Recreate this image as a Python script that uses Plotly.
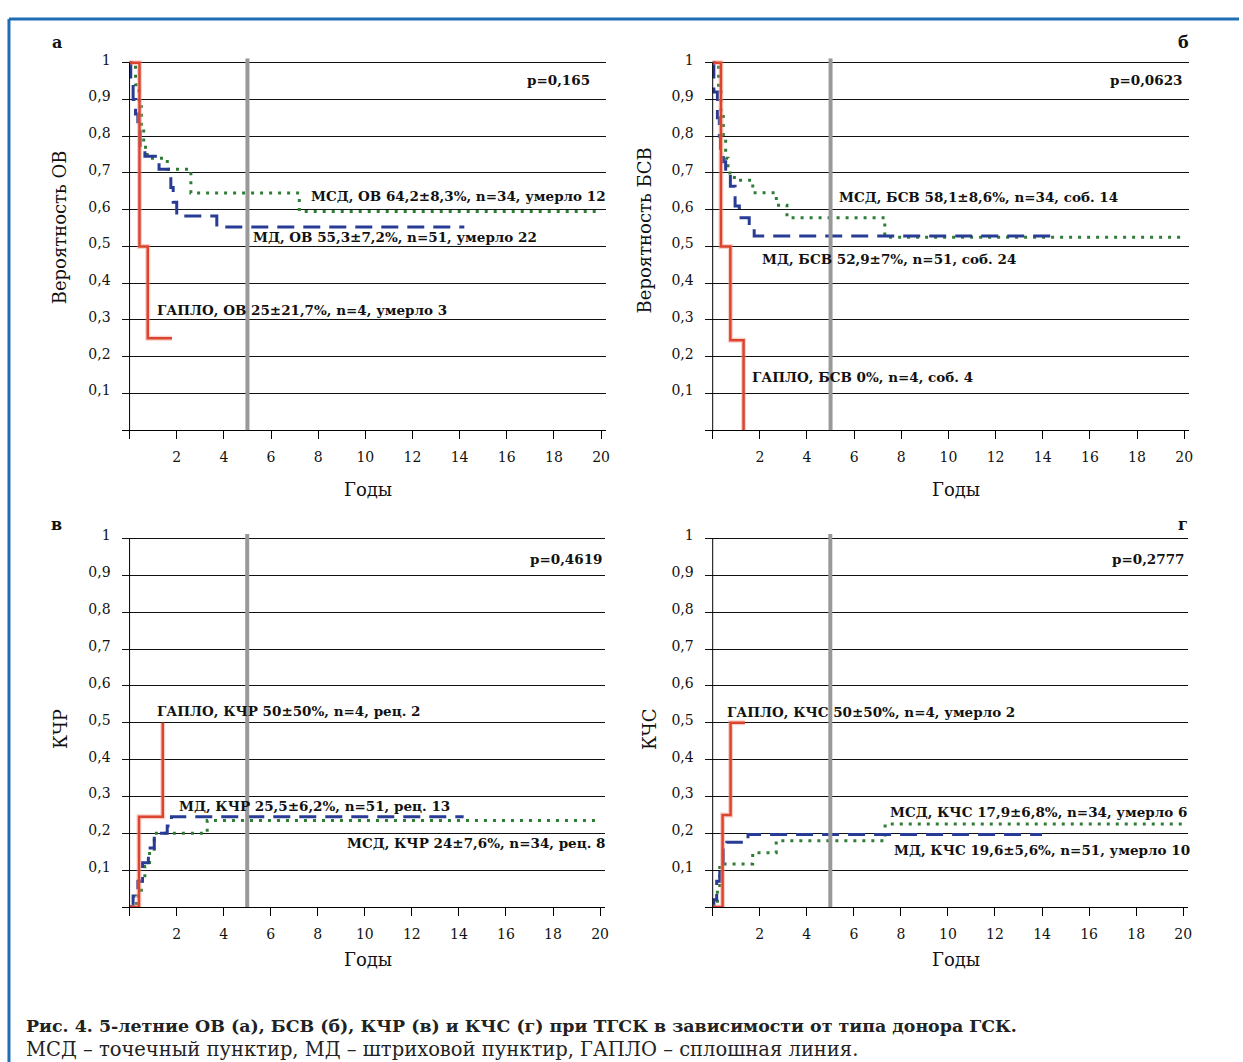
import plotly.graph_objects as go

W, H = 1243, 1062

# ---------------- data (years, probability) ----------------
# Panel а: ОВ
os_msd_t = [0, 0.25, 0.4, 0.5, 0.6, 0.75, 1.6, 2.6, 7.2, 19.8]
os_msd_s = [1.0, 0.94, 0.88, 0.82, 0.77, 0.74, 0.71, 0.645, 0.595, 0.595]
os_md_t = [0, 0.05, 0.15, 0.25, 0.35, 0.45, 0.65, 1.25, 1.75, 1.85, 2.0, 3.7, 14.2]
os_md_s = [1.0, 0.95, 0.9, 0.86, 0.82, 0.77, 0.745, 0.71, 0.66, 0.62, 0.583, 0.553, 0.553]
os_haplo_t = [0, 0.42, 0.77, 1.8]
os_haplo_s = [1.0, 0.5, 0.25, 0.25]

# Panel б: БСВ
efs_msd_t = [0, 0.25, 0.35, 0.45, 0.55, 0.65, 0.92, 1.7, 2.7, 3.15, 7.3, 20]
efs_msd_s = [1.0, 0.93, 0.86, 0.8, 0.74, 0.70, 0.68, 0.646, 0.612, 0.578, 0.525, 0.525]
efs_md_t = [0, 0.05, 0.2, 0.28, 0.33, 0.45, 0.55, 0.75, 0.95, 1.13, 1.55, 1.76, 14.7]
efs_md_s = [1.0, 0.92, 0.85, 0.8, 0.75, 0.73, 0.70, 0.664, 0.61, 0.578, 0.548, 0.528, 0.528]
efs_haplo_t = [0, 0.35, 0.75, 1.31]
efs_haplo_s = [1.0, 0.5, 0.245, 0.0]

# Panel в: КЧР
cir_msd_t = [0, 0.3, 0.5, 0.65, 0.85, 1.05, 3.3, 20]
cir_msd_s = [0, 0.03, 0.07, 0.11, 0.15, 0.2, 0.235, 0.235]
cir_md_t = [0, 0.15, 0.35, 0.55, 0.8, 1.05, 1.6, 1.78, 14.2]
cir_md_s = [0, 0.03, 0.07, 0.12, 0.16, 0.2, 0.22, 0.245, 0.245]
cir_haplo_t = [0, 0.4, 1.41]
cir_haplo_s = [0, 0.245, 0.5]

# Panel г: КЧС
nrm_msd_t = [0, 0.2, 0.3, 1.7, 2.7, 7.33, 20]
nrm_msd_s = [0, 0.05, 0.117, 0.147, 0.18, 0.225, 0.225]
nrm_md_t = [0, 0.05, 0.17, 0.3, 0.45, 0.6, 1.5, 14.0]
nrm_md_s = [0, 0.02, 0.07, 0.11, 0.16, 0.176, 0.197, 0.197]
nrm_haplo_t = [0, 0.42, 0.76, 1.37]
nrm_haplo_s = [0, 0.25, 0.5, 0.5]

x_ticks = [0, 2, 4, 6, 8, 10, 12, 14, 16, 18, 20]
x_ticktext = [""] + [str(v) for v in x_ticks[1:]]
y_ticks = [0.1, 0.2, 0.3, 0.4, 0.5, 0.6, 0.7, 0.8, 0.9, 1.0]
y_ticktext = ["0,1", "0,2", "0,3", "0,4", "0,5", "0,6", "0,7", "0,8", "0,9", "1"]

# ---------------- styles ----------------
C_MSD = "#2f7d34"
C_MD = "#283c96"
C_HAPLO = "#dc4430"
SERIF = "DejaVu Serif"

# panel pixel geometry: x of t=0, x of t=20, y of 0, y of 1
panels = [
    dict(x0=130, x20=603, y0=426, y1=56),
    dict(x0=715, x20=1188, y0=426, y1=56),
    dict(x0=130, x20=602, y0=906, y1=535),
    dict(x0=715, x20=1187, y0=906, y1=535),
]

series = [
    (os_msd_t, os_msd_s, os_md_t, os_md_s, os_haplo_t, os_haplo_s),
    (efs_msd_t, efs_msd_s, efs_md_t, efs_md_s, efs_haplo_t, efs_haplo_s),
    (cir_msd_t, cir_msd_s, cir_md_t, cir_md_s, cir_haplo_t, cir_haplo_s),
    (nrm_msd_t, nrm_msd_s, nrm_md_t, nrm_md_s, nrm_haplo_t, nrm_haplo_s),
]

fig = go.Figure()
layout = dict(
    width=W, height=H, margin=dict(l=0, r=0, t=0, b=0),
    paper_bgcolor="white", plot_bgcolor="white", showlegend=False,
    font=dict(family=SERIF, color="#111"),
)
shapes = []
YTOP = 1.012

for i, (p, s) in enumerate(zip(panels, series)):
    n = "" if i == 0 else str(i + 1)
    ppx = (p["x20"] - p["x0"]) / 20.0
    ppy = p["y0"] - p["y1"]
    left = p["x0"] - 8
    right = p["x20"] + 5
    top = p["y0"] - YTOP * ppy
    layout["xaxis" + n] = dict(
        domain=[left / W, right / W], anchor="y" + n,
        range=[-8 / ppx, 20 + 5 / ppx],
        tickvals=x_ticks, ticktext=x_ticktext,
        ticks="outside", ticklen=8, tickcolor="black", tickwidth=1,
        showline=True, linecolor="black", linewidth=1,
        showgrid=False, zeroline=False, fixedrange=True,
        tickfont=dict(family=SERIF, size=14, color="#111"),
        ticklabelstandoff=6,
    )
    layout["yaxis" + n] = dict(
        domain=[1 - p["y0"] / H, 1 - top / H], anchor="x" + n,
        range=[0, YTOP],
        tickvals=y_ticks, ticktext=y_ticktext,
        ticks="", showline=False, zeroline=False,
        showgrid=True, gridcolor="#111", gridwidth=1, fixedrange=True,
        tickfont=dict(family=SERIF, size=14, color="#111"),
        ticklabelstandoff=10, ticklabelshift=-3,
    )
    # y axis line at t=0 and the grey 5-year marker
    shapes.append(dict(type="line", xref="x" + n, yref="y" + n, x0=0, x1=0, y0=0, y1=1,
                       line=dict(color="black", width=1)))
    shapes.append(dict(type="line", xref="x" + n, yref="y" + n, x0=5, x1=5, y0=0, y1=YTOP,
                       line=dict(color="#999999", width=4)))
    mt, ms, dt, ds, ht, hs = s
    fig.add_trace(go.Scatter(x=mt, y=ms, mode="lines", line=dict(color=C_MSD, width=3, dash="3px,6px", shape="hv"),
                             xaxis="x" + n, yaxis="y" + n, hoverinfo="skip"))
    fig.add_trace(go.Scatter(x=dt, y=ds, mode="lines", line=dict(color=C_MD, width=3, dash="17px,9px", shape="hv"),
                             xaxis="x" + n, yaxis="y" + n, hoverinfo="skip"))
    fig.add_trace(go.Scatter(x=ht, y=hs, mode="lines", line=dict(color="rgba(240,150,130,0.45)", width=5, shape="hv"),
                             xaxis="x" + n, yaxis="y" + n, hoverinfo="skip"))
    fig.add_trace(go.Scatter(x=ht, y=hs, mode="lines", line=dict(color=C_HAPLO, width=2.5, shape="hv"),
                             xaxis="x" + n, yaxis="y" + n, hoverinfo="skip"))

# blue frame
shapes.append(dict(type="line", xref="paper", yref="paper", x0=9 / W, x1=1, y0=1 - 12 / H, y1=1 - 12 / H,
                   line=dict(color="#1f6db5", width=3)))
shapes.append(dict(type="line", xref="paper", yref="paper", x0=9 / W, x1=9 / W, y0=0, y1=1 - 12 / H,
                   line=dict(color="#1f6db5", width=3)))
layout["shapes"] = shapes

def ann(text, x, y, xanchor="left", size=13.5, bold=True, angle=0, color="#111"):
    t = f"<b>{text}</b>" if bold else text
    return dict(text=t, x=x / W, y=1 - y / H, xref="paper", yref="paper",
                xanchor=xanchor, yanchor="middle", showarrow=False, textangle=angle,
                font=dict(family=SERIF, size=size, color=color))

annotations = [
    # panel letters
    ann("а", 57, 36, "center", 16), ann("б", 1187, 36, "center", 16),
    ann("в", 57, 521, "center", 16), ann("г", 1187, 521, "center", 16),
    # p-values
    ann("p=0,165", 594, 73, "right"), ann("p=0,0623", 1188, 73, "right"),
    ann("p=0,4619", 606, 556, "right"), ann("p=0,2777", 1190, 556, "right"),
    # panel а
    ann("МСД, ОВ 64,2±8,3%, n=34, умерло 12", 310, 190),
    ann("МД, ОВ 55,3±7,2%, n=51, умерло 22", 252, 232),
    ann("ГАПЛО, ОВ 25±21,7%, n=4, умерло 3", 155, 305),
    # panel б
    ann("МСД, БСВ 58,1±8,6%, n=34, соб. 14", 840, 191),
    ann("МД, БСВ 52,9±7%, n=51, соб. 24", 762, 254),
    ann("ГАПЛО, БСВ 0%, n=4, соб. 4", 752, 372),
    # panel в
    ann("ГАПЛО, КЧР 50±50%, n=4, рец. 2", 156, 709),
    ann("МД, КЧР 25,5±6,2%, n=51, рец. 13", 178, 804),
    ann("МСД, КЧР 24±7,6%, n=34, рец. 8", 346, 842),
    # panel г
    ann("ГАПЛО, КЧС 50±50%, n=4, умерло 2", 727, 710),
    ann("МСД, КЧС 17,9±6,8%, n=34, умерло 6", 891, 810),
    ann("МД, КЧС 19,6±5,6%, n=51, умерло 10", 895, 849),
    # axis titles
    ann("Вероятность ОВ", 60, 222, "center", 18, False, -90),
    ann("Вероятность БСВ", 647, 225, "center", 18, False, -90),
    ann("КЧР", 60, 727, "center", 18, False, -90),
    ann("КЧС", 651, 727, "center", 18, False, -90),
    ann("Годы", 369, 486, "center", 18, False),
    ann("Годы", 959, 486, "center", 18, False),
    ann("Годы", 369, 959, "center", 18, False),
    ann("Годы", 959, 959, "center", 18, False),
    # caption
    ann("Рис. 4. 5-летние ОВ (а), БСВ (б), КЧР (в) и КЧС (г) при ТГСК в зависимости от типа донора ГСК.",
        24, 1026, "left", 17.4, True, 0, "#222"),
    ann("МСД – точечный пунктир, МД – штриховой пунктир, ГАПЛО – сплошная линия.",
        24, 1049, "left", 19.5, False, 0, "#222"),
]
layout["annotations"] = annotations
fig.update_layout(**layout)
fig.write_html(
    "out.html",
    post_script=(
        "document.body.style.margin='0';document.body.style.padding='0';"
        "var mb=document.querySelectorAll('.modebar-container');"
        "for(var k=0;k<mb.length;k++){mb[k].style.display='none';}"
    ),
)
